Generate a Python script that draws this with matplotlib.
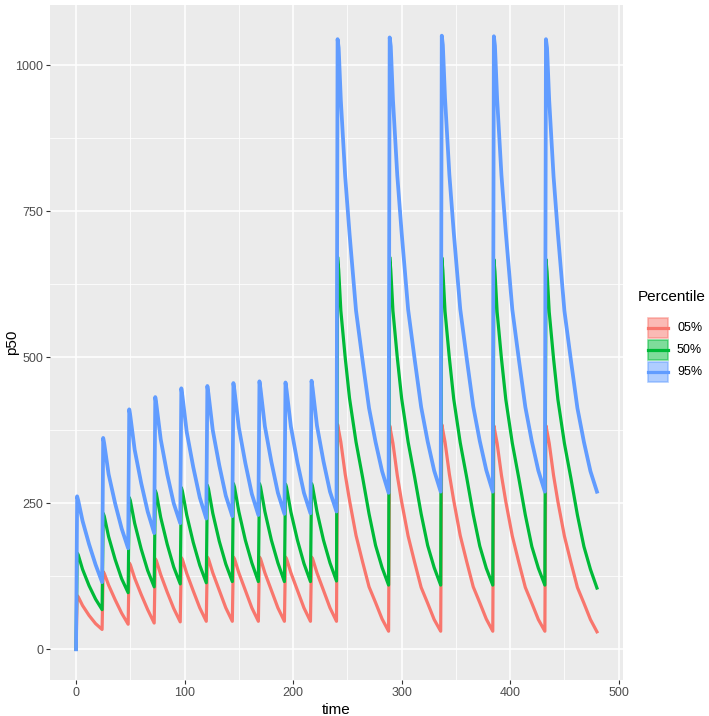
import matplotlib.pyplot as plt
from matplotlib.patches import Rectangle
from matplotlib.lines import Line2D

plt.rcParams['font.family'] = ['Liberation Sans', 'DejaVu Sans']

# sampling times (h)
time = [0,
        1, 2, 6, 12, 18, 24,
        25, 26, 30, 36, 42, 48,
        49, 50, 54, 60, 66, 72,
        73, 74, 78, 84, 90, 96,
        97, 98, 102, 108, 114, 120,
        121, 122, 126, 132, 138, 144,
        145, 146, 150, 156, 162, 168,
        169, 170, 174, 180, 186, 192,
        193, 194, 198, 204, 210, 216,
        217, 218, 222, 228, 234, 240,
        241, 242, 244, 248, 252, 258, 264, 270, 276, 282, 288,
        289, 290, 292, 296, 300, 306, 312, 318, 324, 330, 336,
        337, 338, 340, 344, 348, 354, 360, 366, 372, 378, 384,
        385, 386, 388, 392, 396, 402, 408, 414, 420, 426, 432,
        433, 434, 436, 440, 444, 450, 456, 462, 468, 474, 480]

p05 = [0,
       92, 90, 75, 58, 44, 34,
       133, 130, 110, 85, 62, 43,
       148, 145, 122, 94, 68, 45,
       155, 152, 128, 98, 70, 47,
       157, 154, 130, 100, 71, 48,
       158, 155, 131, 101, 71, 48,
       158, 155, 131, 101, 71, 48,
       158, 155, 131, 101, 71, 48,
       158, 155, 131, 101, 71, 48,
       158, 155, 131, 101, 71, 48,
       385, 375, 355, 300, 255, 195, 150, 107, 80, 52, 31,
       383, 373, 353, 298, 253, 194, 149, 106, 79, 51, 31,
       385, 375, 355, 300, 255, 195, 150, 107, 80, 52, 31,
       383, 373, 353, 298, 253, 194, 149, 106, 79, 51, 31,
       383, 373, 353, 298, 253, 194, 149, 106, 79, 51, 30]

p50 = [0,
       165, 162, 137, 109, 86, 68,
       233, 228, 193, 154, 121, 97,
       260, 255, 216, 172, 135, 107,
       272, 267, 226, 180, 141, 112,
       277, 271, 230, 183, 144, 114,
       281, 275, 233, 185, 146, 116,
       284, 278, 236, 187, 148, 116,
       284, 278, 236, 187, 148, 116,
       283, 277, 235, 187, 147, 116,
       284, 278, 236, 187, 148, 117,
       672, 650, 580, 500, 430, 355, 295, 232, 178, 140, 110,
       672, 650, 580, 500, 430, 355, 295, 232, 178, 140, 110,
       671, 649, 579, 499, 429, 354, 294, 231, 177, 139, 110,
       668, 647, 578, 498, 428, 353, 293, 230, 176, 139, 110,
       668, 647, 578, 498, 428, 353, 293, 230, 176, 137, 105]

p95 = [0,
       262, 255, 220, 180, 145, 115,
       362, 352, 300, 250, 207, 173,
       411, 400, 342, 285, 236, 199,
       432, 420, 360, 300, 250, 216,
       447, 434, 372, 312, 260, 224,
       451, 438, 375, 315, 263, 228,
       456, 443, 380, 319, 266, 230,
       459, 446, 382, 321, 268, 232,
       457, 444, 381, 320, 268, 233,
       460, 447, 383, 322, 270, 236,
       1045, 1030, 940, 810, 712, 580, 495, 413, 355, 305, 268,
       1048, 1033, 942, 812, 714, 582, 497, 415, 356, 306, 270,
       1051, 1035, 944, 813, 715, 583, 498, 416, 357, 307, 270,
       1050, 1034, 943, 812, 714, 582, 497, 415, 356, 306, 270,
       1045, 1030, 940, 810, 712, 580, 495, 413, 355, 305, 270]

labels = ['05%', '50%', '95%']
colors = ['#F8766D', '#00BA38', '#619CFF']
series = [p05, p50, p95]
widths = [2.3, 2.3, 2.7]

W, H = 709, 716
fig = plt.figure(figsize=(W / 100, H / 100), dpi=100)
ax = fig.add_axes([50 / W, 1 - 680 / H, (623 - 50) / W, (680 - 5) / H])
ax.set_facecolor('#EBEBEB')

for s, c, w in zip(series, colors, widths):
    ax.plot(time, s, color=c, lw=w, solid_joinstyle='round')

ax.set_xlim(-24, 504)
ymax = max(max(s) for s in series)
ax.set_ylim(-0.05 * ymax, 1.05 * ymax)
ax.set_xticks([0, 100, 200, 300, 400, 500])
ax.set_xticks([50, 150, 250, 350, 450], minor=True)
ax.set_yticks([0, 250, 500, 750, 1000])
ax.set_yticks([125, 375, 625, 875], minor=True)
ax.set_axisbelow(True)
ax.grid(which='major', color='white', lw=1.1)
ax.grid(which='minor', color='white', lw=0.55)
ax.tick_params(which='minor', length=0)
ax.tick_params(which='major', length=3, width=0.8, color='#333333',
               labelcolor='#4D4D4D', labelsize=9, pad=2)
for sp in ax.spines.values():
    sp.set_visible(False)
ax.set_xlabel('time', fontsize=11, color='black', labelpad=3)
fig.text(12 / W, 1 - 342.5 / H, 'p50', fontsize=11, rotation=90,
         va='center', ha='center')

# legend
fig.text(638 / W, 1 - 297 / H, 'Percentile', fontsize=11, va='center', ha='left')
for i, (lab, c) in enumerate(zip(labels, colors)):
    top = 318 + i * 22
    fig.patches.append(Rectangle((648 / W, 1 - (top + 20) / H), 20 / W, 20 / H,
                                 transform=fig.transFigure, facecolor=c, alpha=0.5,
                                 edgecolor=c, lw=1.2))
    fig.lines.append(Line2D([648 / W, 668 / W], [1 - (top + 10) / H] * 2,
                            transform=fig.transFigure, color=c, lw=2.3))
    fig.text(677 / W, 1 - (top + 10) / H, lab, fontsize=9, va='center', ha='left')

fig.savefig('out.png', dpi=100)
